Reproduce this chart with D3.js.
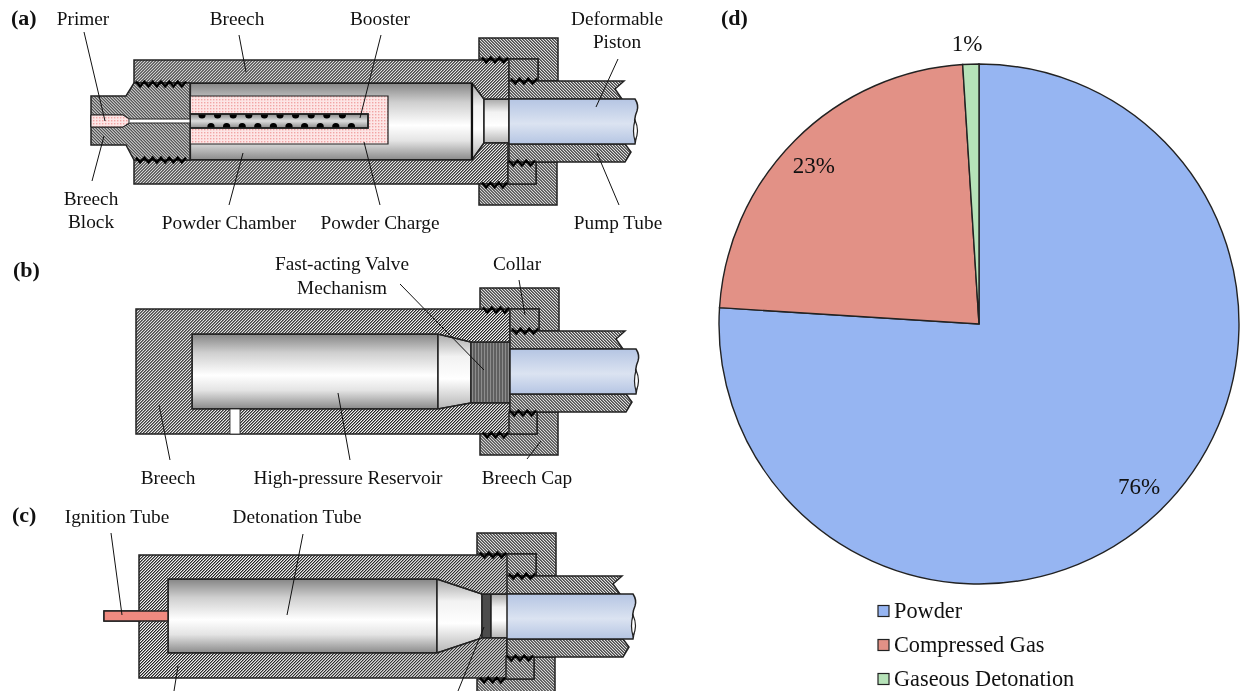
<!DOCTYPE html>
<html>
<head>
<meta charset="utf-8">
<script src="https://cdn.jsdelivr.net/npm/d3@7"></script>
<style>
  html, body { margin: 0; background: #fff; }
  svg { display: block; font-family: "Liberation Serif", serif; fill: #111; filter: blur(0.4px); }
</style>
</head>
<body>
<svg id="figure" width="1241" height="691"></svg>
<script>
const categories = ['Powder', 'Compressed Gas', 'Gaseous Detonation'];
const shares = [76, 23, 1];
const shareLabels = ['76%', '23%', '1%'];
const sliceColors = ['#96b5f2', '#e29186', '#b6e2b8'];

const svg = d3.select('#figure');
const defs = svg.append('defs');

function hatch(id, angle) {
  const p = defs.append('pattern')
    .attr('id', id)
    .attr('width', 2.12).attr('height', 2.12)
    .attr('patternUnits', 'userSpaceOnUse')
    .attr('patternTransform', `rotate(${angle})`);
  p.append('rect').attr('width', 2.12).attr('height', 2.12).attr('fill', '#f6f6f6');
  p.append('rect').attr('width', 1.06).attr('height', 2.12).attr('fill', '#222');
}
hatch('fwd', 45);
hatch('back', -45);

const dots = defs.append('pattern')
  .attr('id', 'pink')
  .attr('width', 3).attr('height', 3)
  .attr('patternUnits', 'userSpaceOnUse');
dots.append('rect').attr('width', 3).attr('height', 3).attr('fill', '#fde6e6');
dots.append('rect').attr('width', 1.4).attr('height', 1.4).attr('fill', '#f2a5a5');

defs.append('clipPath').attr('id', 'booster-clip')
  .append('rect').attr('x', 190).attr('y', 114).attr('width', 178).attr('height', 14);

function gradient(id, stops) {
  const g = defs.append('linearGradient')
    .attr('id', id)
    .attr('x1', 0).attr('x2', 0).attr('y1', 0).attr('y2', 1);
  stops.forEach(([o, c]) => g.append('stop').attr('offset', o).attr('stop-color', c));
}
gradient('steel', [[0, '#858585'], [0.25, '#cfcfcf'], [0.55, '#ffffff'], [0.75, '#e4e4e4'], [1, '#8a8a8a']]);
gradient('nose', [[0, '#a8a8a8'], [0.3, '#f2f2f2'], [0.6, '#ffffff'], [1, '#b5b5b5']]);
gradient('piston', [[0, '#b5c5e3'], [0.55, '#dbe3f1'], [1, '#b5c5e3']]);
gradient('booster', [[0, '#8c8c8c'], [0.5, '#dcdcdc'], [1, '#8c8c8c']]);

const outline = d3.line();

function shape(g, pts, fill, sw = 1.5) {
  return g.append('path')
    .attr('d', `${outline(pts)}Z`)
    .attr('fill', fill)
    .attr('stroke', '#222')
    .attr('stroke-width', sw)
    .attr('stroke-linejoin', 'miter');
}

function box(g, x0, y0, x1, y1, fill, sw = 1.5) {
  return shape(g, [[x0, y0], [x1, y0], [x1, y1], [x0, y1]], fill, sw);
}

// zigzag screw thread between two parts
function thread(g, x0, x1, y, n = 6) {
  const step = (x1 - x0) / n;
  const pts = d3.range(n * 2 + 1).map(i => [x0 + (i * step) / 2, y + (i % 2 ? 3.5 : -1.5)]);
  g.append('path')
    .attr('d', outline(pts))
    .attr('fill', 'none')
    .attr('stroke', '#000')
    .attr('stroke-width', 2.2);
}

// cap, collar, pump tube and piston are the same on all three guns
function pumpEnd(dx, dy) {
  const g = svg.append('g').attr('transform', `translate(${dx},${dy})`);
  shape(g, [[479, 38], [558, 38], [558, 81], [538, 81], [538, 59], [479, 59]], 'url(#back)');
  shape(g, [[479, 184], [536, 184], [536, 162], [557, 162], [557, 205], [479, 205]], 'url(#back)');
  box(g, 509, 59, 538, 81, 'url(#back)');
  box(g, 508, 162, 536, 184, 'url(#back)');
  shape(g, [[509, 81], [624, 81], [615, 89], [622, 99], [509, 99]], 'url(#back)');
  shape(g, [[509, 144], [625, 144], [631, 152], [625, 162], [509, 162]], 'url(#back)');
  g.append('path')
    .attr('d', 'M509,99H635Q639,105 637,111Q633,120 636,127Q637,136 635,144H509Z')
    .attr('fill', 'url(#piston)')
    .attr('stroke', '#222')
    .attr('stroke-width', 1.5);
  g.append('path')
    .attr('d', 'M635,120Q632,131 635,141Q640,131 635,120Z')
    .attr('fill', '#fff')
    .attr('stroke', '#222')
    .attr('stroke-width', 1.2);
  thread(g, 482, 508, 59, 3);
  thread(g, 511, 537, 80, 3);
  thread(g, 509, 535, 162, 3);
  thread(g, 482, 507, 184, 3);
}

function leader(x1, y1, x2, y2) {
  svg.append('line')
    .attr('x1', x1).attr('y1', y1)
    .attr('x2', x2).attr('y2', y2)
    .attr('stroke', '#111')
    .attr('stroke-width', 1);
}

function label(text, x, y) {
  svg.append('text')
    .attr('x', x).attr('y', y)
    .attr('text-anchor', 'middle')
    .attr('font-size', 19.3)
    .text(text);
}

function panelTag(text, x, y) {
  svg.append('text')
    .attr('x', x).attr('y', y)
    .attr('font-size', 22)
    .attr('font-weight', 'bold')
    .text(text);
}

// ---- panel a ----
function drawA() {
  const g = svg.append('g');
  box(g, 190, 83, 472, 160, 'url(#steel)', 2.2);
  shape(g, [[472, 83], [484, 99], [484, 143], [472, 160]], 'url(#nose)');
  box(g, 484, 99, 509, 143, 'url(#nose)');
  box(g, 190, 96, 388, 144, 'url(#pink)', 1.2);
  box(g, 190, 114, 368, 128, 'url(#booster)', 1.5);
  const holes = g.append('g').attr('clip-path', 'url(#booster-clip)');
  holes.selectAll('.hole-top')
    .data(d3.range(10))
    .enter().append('circle')
    .attr('cx', i => 202 + i * 15.6)
    .attr('cy', 115)
    .attr('r', 3.6)
    .attr('fill', '#000');
  holes.selectAll('.hole-bottom')
    .data(d3.range(10))
    .enter().append('circle')
    .attr('cx', i => 211 + i * 15.6)
    .attr('cy', 126.5)
    .attr('r', 3.6)
    .attr('fill', '#000');
  box(g, 190, 114, 368, 128, 'none', 1.5);

  shape(g, [[134, 60], [509, 60], [509, 99], [484, 99], [472, 83], [134, 83]], 'url(#fwd)');
  shape(g, [[134, 160], [472, 160], [484, 143], [508, 143], [508, 184], [134, 184]], 'url(#fwd)');
  shape(g, [[91, 96], [126, 96], [134, 83], [190, 83], [190, 160], [134, 160], [126, 145], [91, 145]], 'url(#back)');
  shape(g, [[91, 115], [123, 115], [130, 119], [190, 119], [190, 123], [130, 123], [123, 127], [91, 127]], '#fff', 1);
  shape(g, [[91, 115], [123, 115], [129, 119], [129, 123], [123, 127], [91, 127]], 'url(#pink)', 1);
  thread(g, 136, 186, 83);
  thread(g, 136, 186, 159);
  g.append('line').attr('x1', 472).attr('x2', 472).attr('y1', 83).attr('y2', 160)
    .attr('stroke', '#111').attr('stroke-width', 2.2);
  pumpEnd(0, 0);

  panelTag('(a)', 11, 25);
  label('Primer', 83, 25);
  label('Breech', 237, 25);
  label('Booster', 380, 25);
  label('Deformable', 617, 25);
  label('Piston', 617, 48);
  label('Breech', 91, 205);
  label('Block', 91, 228);
  label('Powder Chamber', 229, 229);
  label('Powder Charge', 380, 229);
  label('Pump Tube', 618, 229);
  leader(84, 32, 105, 121);
  leader(239, 35, 246, 72);
  leader(381, 35, 360, 118);
  leader(618, 59, 596, 107);
  leader(92, 181, 104, 136);
  leader(229, 205, 243, 153);
  leader(380, 205, 364, 142);
  leader(619, 205, 597, 153);
}

// ---- panel b ----
function drawB() {
  const g = svg.append('g');
  box(g, 192, 334, 438, 409, 'url(#steel)');
  shape(g, [[438, 334], [471, 342], [471, 403], [438, 409]], 'url(#nose)');
  box(g, 471, 342, 510, 403, '#8d8d8d');
  g.selectAll('.valve')
    .data(d3.range(12))
    .enter().append('line')
    .attr('x1', i => 474 + i * 3).attr('x2', i => 474 + i * 3)
    .attr('y1', 343).attr('y2', 402)
    .attr('stroke', '#333')
    .attr('stroke-width', 1);
  shape(g, [[136, 309], [510, 309], [510, 342], [471, 342], [438, 334], [192, 334], [192, 409],
    [438, 409], [471, 403], [510, 403], [510, 434], [136, 434]], 'url(#fwd)');
  box(g, 230, 409, 240, 434, '#fff', 0.8);
  pumpEnd(1, 250);

  panelTag('(b)', 13, 277);
  label('Fast-acting Valve', 342, 270);
  label('Mechanism', 342, 294);
  label('Collar', 517, 270);
  label('Breech', 168, 484);
  label('High-pressure Reservoir', 348, 484);
  label('Breech Cap', 527, 484);
  leader(400, 284, 484, 370);
  leader(519, 280, 525, 315);
  leader(170, 460, 159, 405);
  leader(350, 460, 338, 393);
  leader(527, 459, 541, 441);
}

// ---- panel c ----
function drawC() {
  const g = svg.append('g');
  box(g, 104, 611, 168, 621, '#f08a80');
  box(g, 168, 579, 437, 653, 'url(#steel)');
  shape(g, [[437, 579], [482, 594], [482, 638], [437, 653]], 'url(#nose)');
  box(g, 482, 594, 491, 638, '#4c4c4c');
  box(g, 491, 594, 508, 638, 'url(#nose)');
  shape(g, [[139, 555], [509, 555], [509, 594], [482, 594], [437, 579], [168, 579], [168, 653],
    [437, 653], [482, 638], [507, 638], [507, 678], [139, 678]], 'url(#fwd)');
  box(g, 104, 611, 168, 621, '#f08a80');
  pumpEnd(-2, 495);

  panelTag('(c)', 12, 522);
  label('Ignition Tube', 117, 523);
  label('Detonation Tube', 297, 523);
  leader(111, 533, 122, 615);
  leader(303, 534, 287, 615);
  leader(174, 691, 178, 666);
  leader(458, 691, 484, 627);
}

// ---- panel d ----
function drawD() {
  const radius = 260;
  const color = d3.scaleOrdinal().domain(categories).range(sliceColors);
  const pie = d3.pie().sort(null).value(d => d.value);
  const slices = pie(categories.map((name, i) => ({ name, value: shares[i], text: shareLabels[i] })));
  const arc = d3.arc().innerRadius(0).outerRadius(radius);
  const inner = d3.arc().innerRadius(228).outerRadius(228);
  const outer = d3.arc().innerRadius(281).outerRadius(281);
  // labels were placed by hand in the original, a little off the centroid
  const nudge = [[4, -3], [-4, 3], [-3, 1]];

  const g = svg.append('g').attr('transform', 'translate(979,324)');
  g.selectAll('path')
    .data(slices)
    .enter().append('path')
    .attr('d', arc)
    .attr('fill', d => color(d.data.name))
    .attr('stroke', '#222')
    .attr('stroke-width', 1.4);
  g.selectAll('text')
    .data(slices)
    .enter().append('text')
    .attr('transform', d => `translate(${(d.data.value < 5 ? outer : inner).centroid(d)})`)
    .attr('dx', (d, i) => nudge[i][0])
    .attr('dy', (d, i) => nudge[i][1] + 7)
    .attr('text-anchor', 'middle')
    .attr('font-size', 23)
    .text(d => d.data.text);

  const rows = d3.scalePoint().domain(categories).range([611, 679]);
  const legend = svg.append('g').selectAll('g')
    .data(categories)
    .enter().append('g')
    .attr('transform', d => `translate(878,${rows(d)})`);
  legend.append('rect')
    .attr('y', -5.5)
    .attr('width', 11).attr('height', 11)
    .attr('fill', d => color(d))
    .attr('stroke', '#222')
    .attr('stroke-width', 1.2);
  legend.append('text')
    .attr('x', 16)
    .attr('dy', '0.33em')
    .attr('font-size', 22.3)
    .text(d => d);

  panelTag('(d)', 721, 25);
}

drawA();
drawB();
drawC();
drawD();
</script>
</body>
</html>
